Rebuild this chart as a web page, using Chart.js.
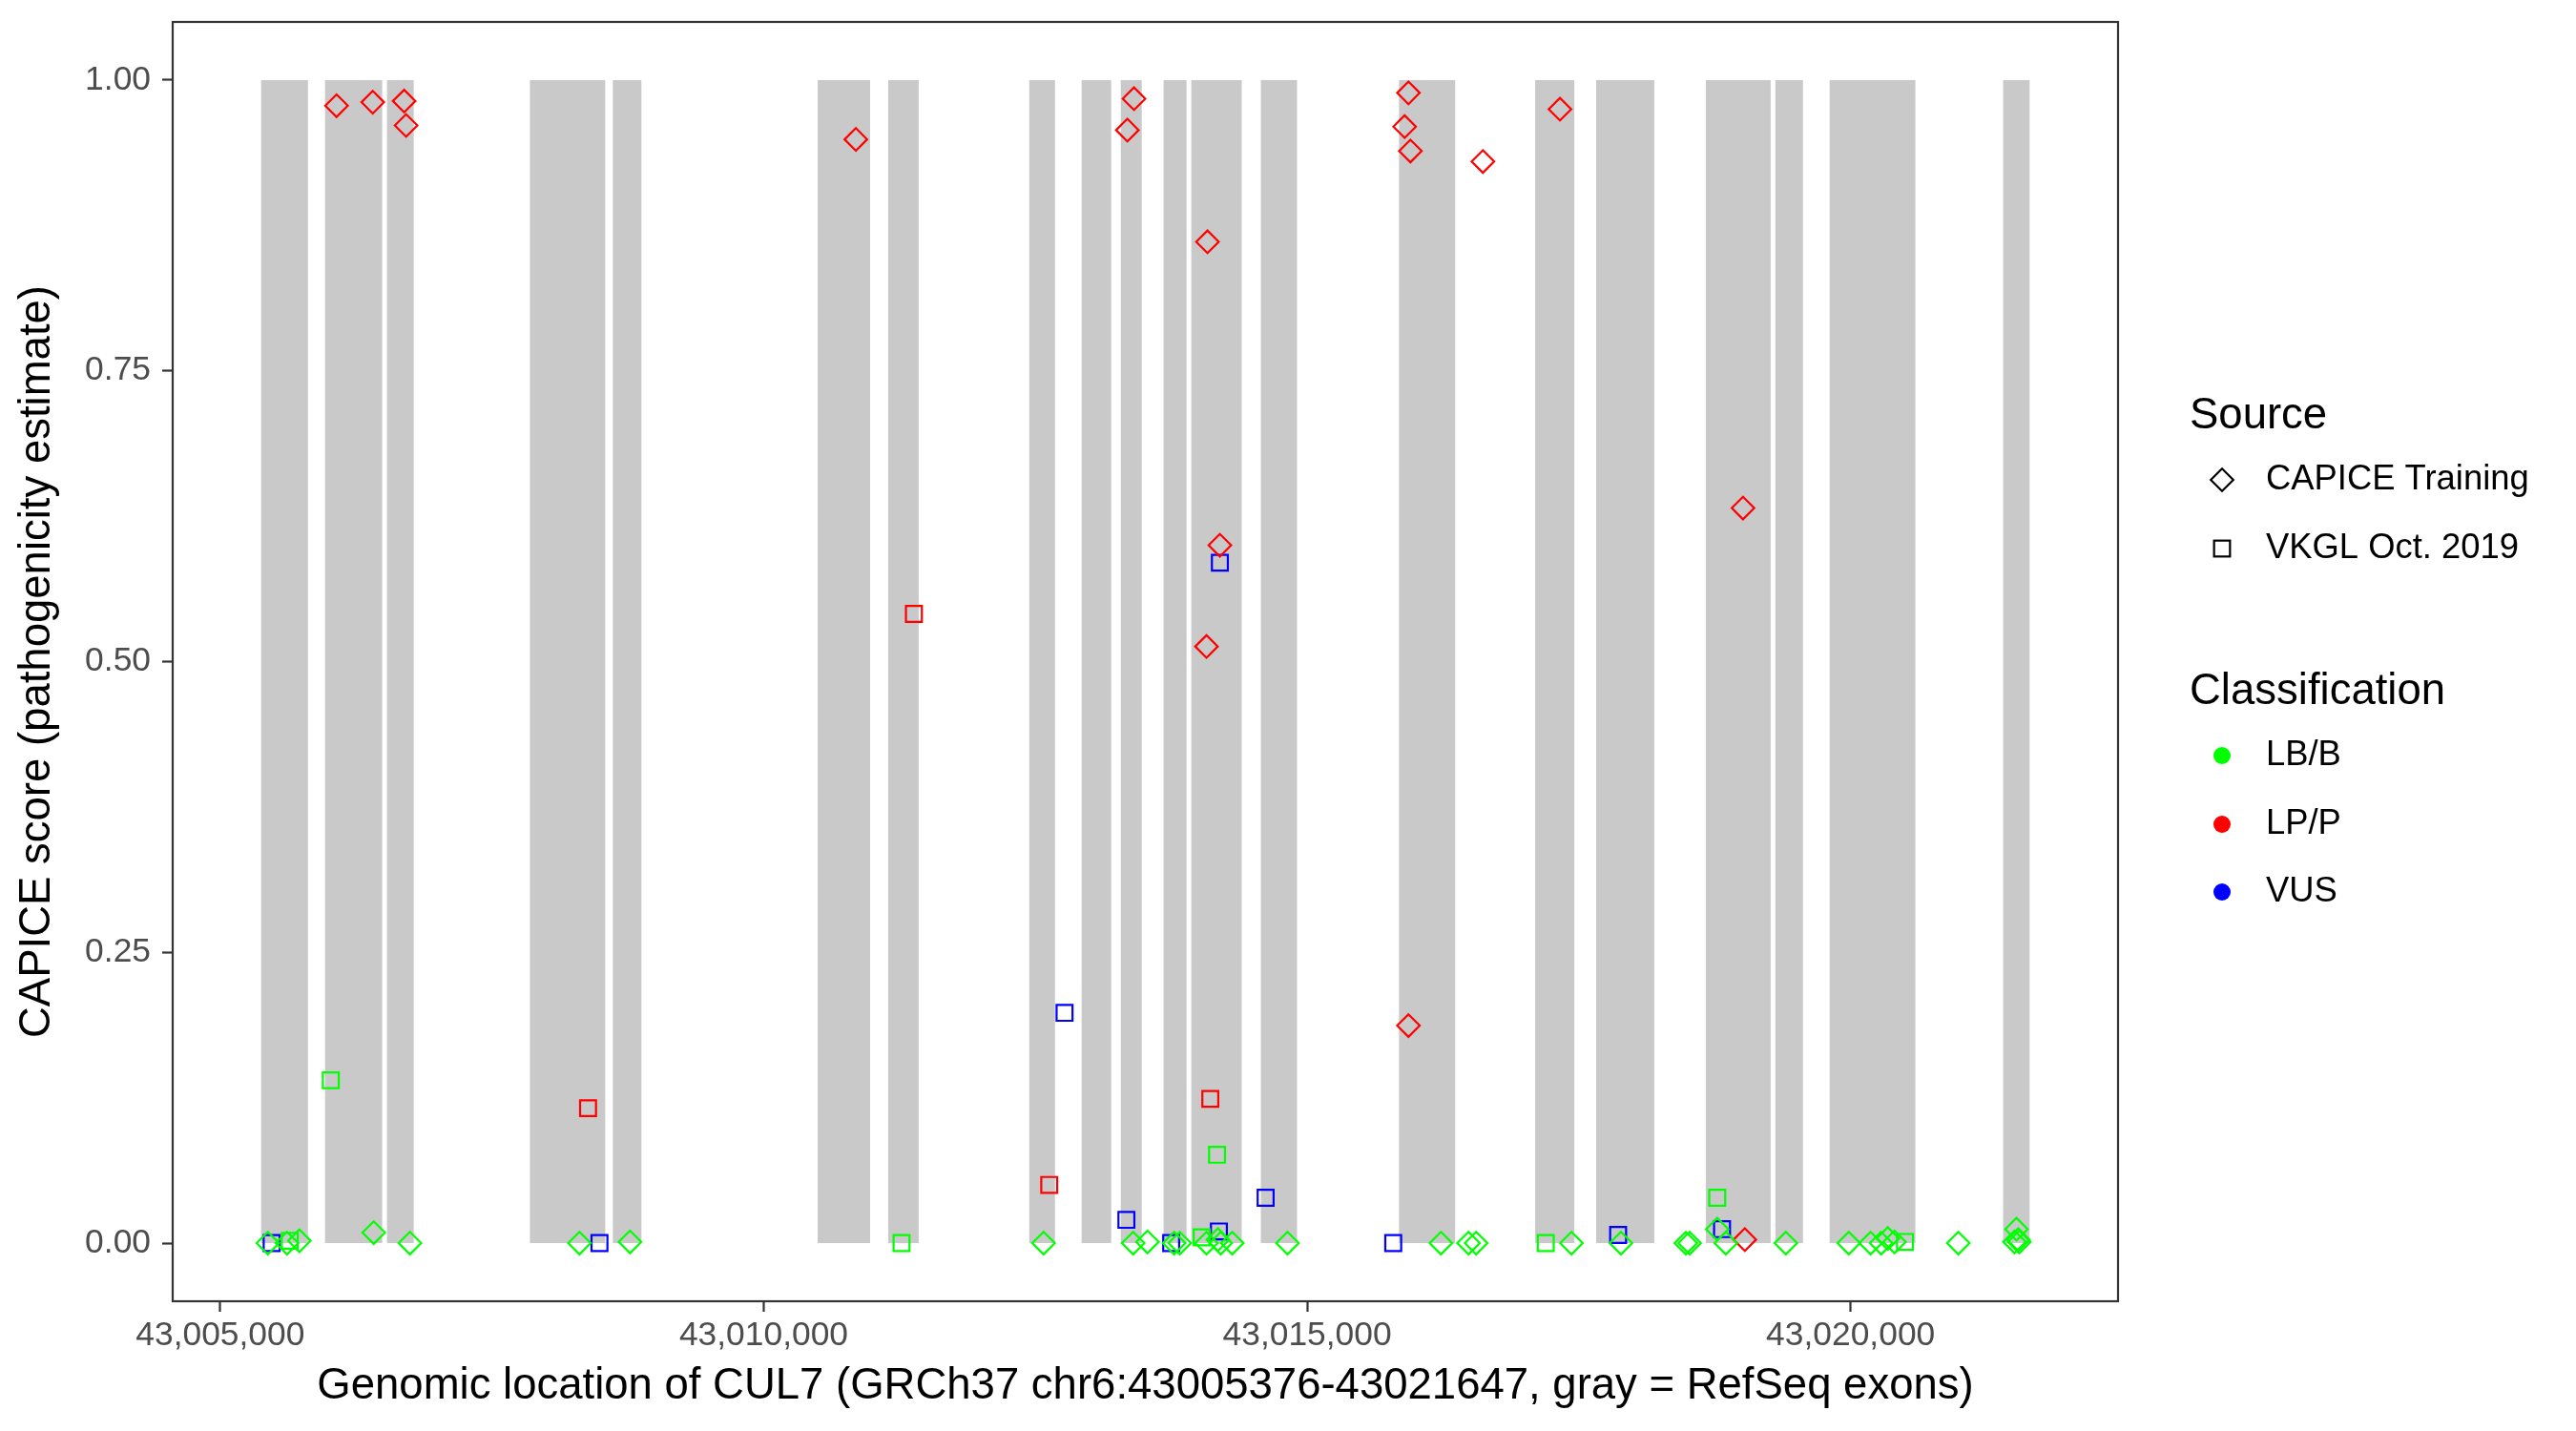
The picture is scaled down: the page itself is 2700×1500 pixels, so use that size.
<!DOCTYPE html>
<html><head><meta charset="utf-8">
<script src="https://cdn.jsdelivr.net/npm/chart.js@4.4.0/dist/chart.umd.min.js"></script>
<style>html,body{margin:0;padding:0;background:#fff}#wrap{width:2700px;height:1500px}</style>
</head><body><div id="wrap"><canvas id="c" width="2700" height="1500"></canvas></div>
<script>
const FONT = '"Liberation Sans", Arial, Helvetica, sans-serif';
const xTitle = 'Genomic location of CUL7 (GRCh37 chr6:43005376-43021647, gray = RefSeq exons)';
const yTitle = 'CAPICE score (pathogenicity estimate)';
const xTickValues = [43005000, 43010000, 43015000, 43020000];
const yTickValues = [0, 0.25, 0.5, 0.75, 1];
const geneStart = 43005376, geneEnd = 43021647;

const exonStarts = [43005376, 43005964, 43006534, 43007849, 43008612, 43010497, 43011146, 43012443, 43012925, 43013285, 43013679, 43013934, 43014574, 43015845, 43017098, 43017659, 43018668, 43019308, 43019807, 43021403];
const exonEnds   = [43005807, 43006490, 43006780, 43008542, 43008875, 43010979, 43011426, 43012680, 43013197, 43013478, 43013890, 43014398, 43014907, 43016362, 43017458, 43018194, 43019264, 43019562, 43020596, 43021647];

const sourceNames = ['CAPICE Training', 'VKGL Oct. 2019'];
const classNames = ['LB/B', 'LP/P', 'VUS'];
const classColors = ['#00FF00', '#FF0000', '#0000FF'];

// CAPICE Training (diamonds)
const capiceLBx = [43005438, 43005614, 43005728, 43006412, 43006745, 43008305, 43008770, 43012575, 43013399, 43013531, 43013776, 43013828, 43014074, 43014179, 43014205, 43014311, 43014819, 43016231, 43016485, 43016555, 43017432, 43017887, 43018484, 43018519, 43018773, 43018852, 43019404, 43019983, 43020184, 43020281, 43020342, 43020404, 43020991, 43021508, 43021526, 43021543, 43021552];
const capiceLBy = [0, 0, 0.002, 0.009, 0, 0, 0.001, 0, 0, 0.001, 0, 0, 0, 0.003, 0, 0, 0, 0, 0, 0, 0, 0, 0, 0, 0.012, 0, 0, 0, 0, 0, 0.004, 0.001, 0, 0.001, 0.012, 0.003, 0.001];
const capiceLPx = [43006070, 43006403, 43006692, 43006710, 43010848, 43013346, 43013407, 43014083, 43014197, 43014074, 43015897, 43015932, 43015950, 43015932, 43016617, 43017326, 43019010, 43019027];
const capiceLPy = [0.978, 0.981, 0.982, 0.961, 0.949, 0.957, 0.984, 0.861, 0.600, 0.513, 0.960, 0.989, 0.939, 0.187, 0.930, 0.975, 0.632, 0.003];
// VKGL Oct. 2019 (squares)
const vkglLBx = [43006017, 43005640, 43011268, 43014030, 43014171, 43017195, 43018773, 43020500];
const vkglLBy = [0.140, 0.002, 0, 0.005, 0.076, 0, 0.039, 0.001];
const vkglLPx = [43008384, 43011382, 43012627, 43014109];
const vkglLPy = [0.116, 0.541, 0.050, 0.124];
const vkglVUSx = [43005473, 43008489, 43012768, 43013337, 43013749, 43014188, 43014197, 43014618, 43015792, 43017861, 43018817];
const vkglVUSy = [0, 0, 0.198, 0.020, 0, 0.010, 0.585, 0.039, 0, 0.007, 0.012];

const pad = 0.05 * (geneEnd - geneStart);
const xMin = geneStart - pad, xMax = geneEnd + pad;

function pts(xs, ys) { return xs.map((x, i) => ({x: x, y: ys[i]})); }
function ds(label, xs, ys, style, color) {
  return {label, data: pts(xs, ys), pointStyle: style, pointRadius: 11.8, pointHoverRadius: 11.8,
    pointBorderWidth: 2.2, borderColor: color, backgroundColor: 'rgba(0,0,0,0)', showLine: false};
}

const exonPlugin = {
  id: 'exons',
  beforeDatasetsDraw(chart) {
    const {ctx, scales: {x, y}} = chart;
    const y0 = y.getPixelForValue(0), y1 = y.getPixelForValue(1);
    ctx.save();
    ctx.fillStyle = '#C9C9C9';
    exonStarts.forEach((s, i) => {
      const a = x.getPixelForValue(s), b = x.getPixelForValue(exonEnds[i]);
      ctx.fillRect(a, y1, b - a, y0 - y1);
    });
    ctx.restore();
  }
};

const framePlugin = {
  id: 'frame',
  afterDatasetsDraw(chart) {
    const {ctx, chartArea: a} = chart;
    ctx.save();
    ctx.strokeStyle = '#333333';
    ctx.lineWidth = 2.2;
    ctx.strokeRect(a.left, a.top, a.right - a.left, a.bottom - a.top);
    ctx.restore();
  }
};

const legendPlugin = {
  id: 'customLegend',
  afterDraw(chart) {
    const ctx = chart.ctx;
    const titleX = 2295, symX = 2329, textX = 2375;
    ctx.save();
    ctx.fillStyle = '#000';
    ctx.textAlign = 'left';
    ctx.textBaseline = 'alphabetic';
    ctx.font = '45.5px ' + FONT;
    ctx.fillText('Source', titleX, 449);
    ctx.fillText('Classification', titleX, 738);
    ctx.font = '36.4px ' + FONT;
    ctx.textBaseline = 'middle';
    const srcY = [503, 575];
    sourceNames.forEach((n, i) => ctx.fillText(n, textX, srcY[i]));
    const clsY = [792, 864, 935];
    classNames.forEach((n, i) => ctx.fillText(n, textX, clsY[i]));
    ctx.strokeStyle = '#000';
    ctx.lineWidth = 2.2;
    const r = 11.8;
    ctx.beginPath();
    ctx.moveTo(symX - r, srcY[0]); ctx.lineTo(symX, srcY[0] - r);
    ctx.lineTo(symX + r, srcY[0]); ctx.lineTo(symX, srcY[0] + r); ctx.closePath();
    ctx.stroke();
    const h = r * Math.SQRT1_2;
    ctx.strokeRect(symX - h, srcY[1] - h, 2 * h, 2 * h);
    classColors.forEach((c, i) => {
      ctx.fillStyle = c;
      ctx.beginPath(); ctx.arc(symX, clsY[i], 9, 0, Math.PI * 2); ctx.fill();
    });
    ctx.restore();
  }
};

new Chart(document.getElementById('c'), {
  type: 'scatter',
  data: {
    datasets: [
      ds('CAPICE Training LB/B', capiceLBx, capiceLBy, 'rectRot', classColors[0]),
      ds('CAPICE Training LP/P', capiceLPx, capiceLPy, 'rectRot', classColors[1]),
      ds('VKGL Oct. 2019 LB/B', vkglLBx, vkglLBy, 'rect', classColors[0]),
      ds('VKGL Oct. 2019 LP/P', vkglLPx, vkglLPy, 'rect', classColors[1]),
      ds('VKGL Oct. 2019 VUS', vkglVUSx, vkglVUSy, 'rect', classColors[2])
    ]
  },
  options: {
    responsive: false,
    devicePixelRatio: 1,
    animation: false,
    layout: {padding: {left: 0, top: 23, right: 480, bottom: 0}},
    plugins: {legend: {display: false}, tooltip: {enabled: false}},
    scales: {
      x: {
        type: 'linear', min: xMin, max: xMax,
        afterBuildTicks: s => { s.ticks = xTickValues.map(v => ({value: v})); },
        afterFit: s => { s.height = 136; s.paddingLeft = 0; s.paddingRight = 0; },
        grid: {display: true, drawOnChartArea: false, drawTicks: true, tickLength: 11, tickColor: '#333333', tickWidth: 2.2},
        border: {display: false},
        ticks: {autoSkip: false, maxRotation: 0, padding: 4, color: '#4D4D4D',
          font: {family: FONT, size: 35.4}, callback: v => Number(v).toLocaleString('en-US')},
        title: {display: true, text: xTitle, color: '#000', font: {family: FONT, size: 45.5, lineHeight: 1},
          padding: {top: 0, bottom: 24}}
      },
      y: {
        type: 'linear', min: -0.05, max: 1.05,
        afterBuildTicks: s => { s.ticks = yTickValues.map(v => ({value: v})); },
        afterFit: s => { s.width = 181; s.paddingTop = 0; s.paddingBottom = 0; },
        grid: {display: true, drawOnChartArea: false, drawTicks: true, tickLength: 11, tickColor: '#333333', tickWidth: 2.2},
        border: {display: false},
        ticks: {autoSkip: false, padding: 12, color: '#4D4D4D',
          font: {family: FONT, size: 35.4}, callback: v => Number(v).toFixed(2)},
        title: {display: true, text: yTitle, color: '#000', font: {family: FONT, size: 45.5, lineHeight: 1},
          padding: {top: 17, bottom: 0}}
      }
    }
  },
  plugins: [exonPlugin, framePlugin, legendPlugin]
});
</script></body></html>
